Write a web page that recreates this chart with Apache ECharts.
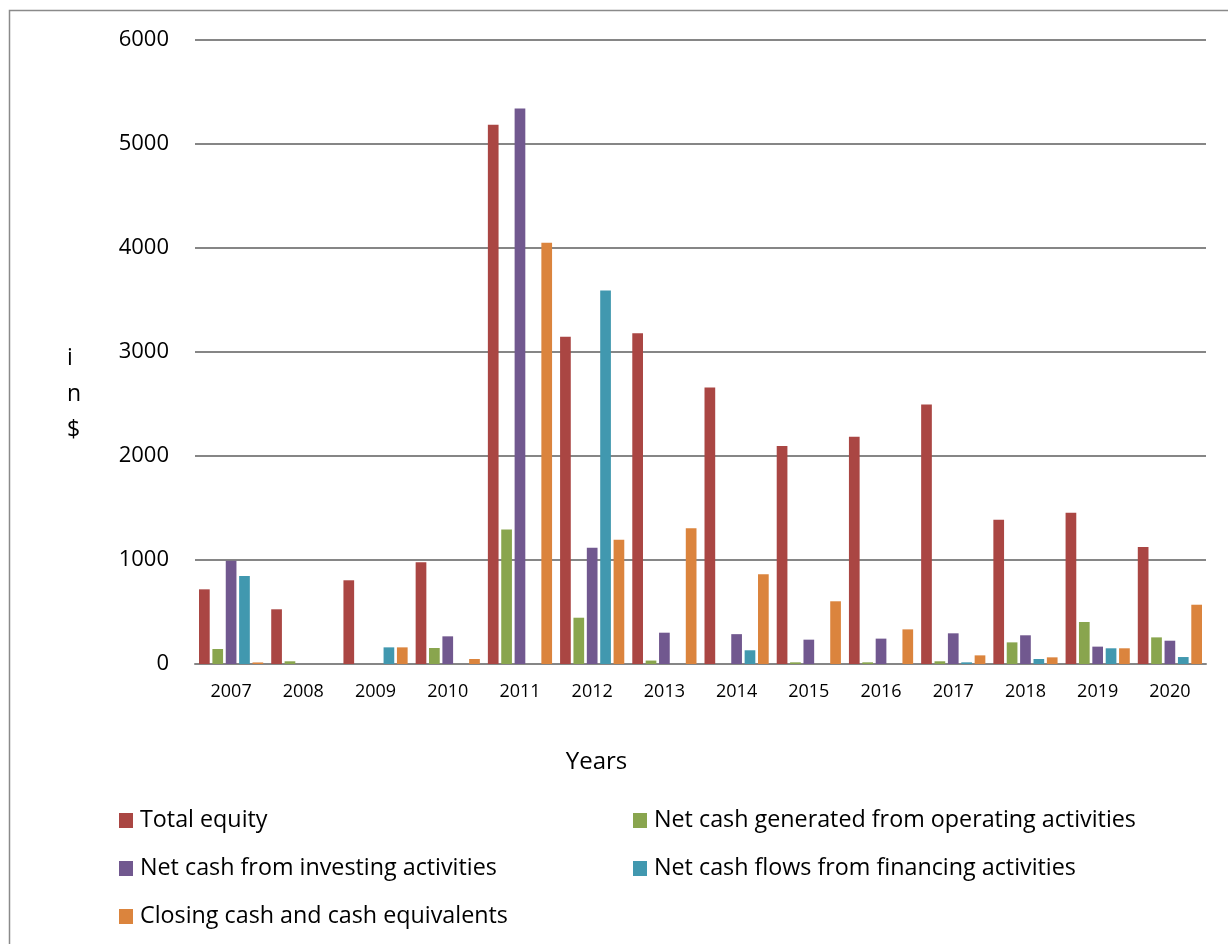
<!DOCTYPE html>
<html>
<head>
<meta charset="utf-8">
<script src="https://cdn.jsdelivr.net/npm/echarts@6/dist/echarts.min.js"></script>
<style>
  html, body { margin: 0; padding: 0; background: #fff; }
  #chart { width: 1228px; height: 944px; }
</style>
</head>
<body>
<div id="chart"></div>
<script>
// Years on the category axis
const years = ['2007', '2008', '2009', '2010', '2011', '2012', '2013', '2014', '2015', '2016', '2017', '2018', '2019', '2020'];

// Series values (in $)
const totalEquity = [718, 526, 805, 978, 5184, 3147, 3180, 2658, 2096, 2186, 2494, 1388, 1455, 1125];
const operatingCash = [144, 26, 0, 154, 1294, 445, 33, 0, 16, 16, 26, 208, 404, 256];
const investingCash = [993, 0, 0, 266, 5342, 1118, 301, 287, 234, 244, 295, 276, 167, 224];
const financingCash = [846, 0, 160, 0, 0, 3592, 0, 132, 0, 0, 16, 48, 151, 67];
const closingCash = [15, 0, 160, 48, 4051, 1195, 1305, 864, 603, 333, 83, 64, 151, 570];

const seriesNames = [
  'Total equity',
  'Net cash generated from operating activities',
  'Net cash from investing activities',
  'Net cash flows from financing activities',
  'Closing cash and cash equivalents'
];
const seriesData = [totalEquity, operatingCash, investingCash, financingCash, closingCash];
const colors = ['#AA4643', '#89A54E', '#71588F', '#4198AF', '#DB843D'];

const FONT = '"Open Sans", Lato, sans-serif';

const chart = echarts.init(document.getElementById('chart'));

// two-column legend layout
const legendPos = [
  { left: 119, top: 809 },
  { left: 633, top: 809 },
  { left: 119, top: 857 },
  { left: 633, top: 857 },
  { left: 119, top: 905 }
];

const option = {
  backgroundColor: '#ffffff',
  color: colors,
  animation: false,
  graphic: [
    {
      type: 'rect',
      shape: { x: 9.5, y: 10.5, width: 1260, height: 980 },
      style: { fill: 'none', stroke: '#8a8a8a', lineWidth: 1.5 },
      silent: true
    },
    {
      // value-axis title, stacked one character per line
      type: 'text',
      left: 67,
      top: 340,
      style: {
        text: 'i\nn\n$',
        font: '23px "Open Sans", Lato, sans-serif',
        fill: '#000',
        lineHeight: 36,
        align: 'center'
      },
      silent: true
    }
  ],
  legend: seriesNames.map((name, i) => ({
    data: [name],
    left: legendPos[i].left,
    top: legendPos[i].top,
    padding: 0,
    icon: 'rect',
    itemWidth: 14,
    itemHeight: 15,
    selectedMode: false,
    textStyle: { fontFamily: FONT, fontSize: 23.3, color: '#000', padding: [0, 0, 0, 2] }
  })),
  grid: { left: 195, right: 22, top: 40, bottom: 280, containLabel: false },
  xAxis: {
    type: 'category',
    data: years,
    name: 'Years',
    nameLocation: 'middle',
    nameGap: 86,
    nameTextStyle: { fontFamily: FONT, fontSize: 24, color: '#000', padding: [0, 208, 0, 0] },
    axisLine: { lineStyle: { color: '#868686', width: 2 } },
    axisTick: { show: false },
    axisLabel: { fontFamily: FONT, fontSize: 18, color: '#000', margin: 19 }
  },
  yAxis: {
    type: 'value',
    min: 0,
    max: 6000,
    interval: 1000,
    axisLine: { show: false },
    axisTick: { show: false },
    axisLabel: {
      fontFamily: FONT, fontSize: 22, color: '#000', margin: 26,
      formatter: (v) => String(v)
    },
    splitLine: { lineStyle: { color: '#868686', width: 2 } }
  },
  series: seriesNames.map((name, i) => ({
    name: name,
    type: 'bar',
    data: seriesData[i],
    barWidth: 10.7,
    barGap: '25%',
    itemStyle: { color: colors[i] }
  }))
};

chart.setOption(option);
</script>
</body>
</html>
